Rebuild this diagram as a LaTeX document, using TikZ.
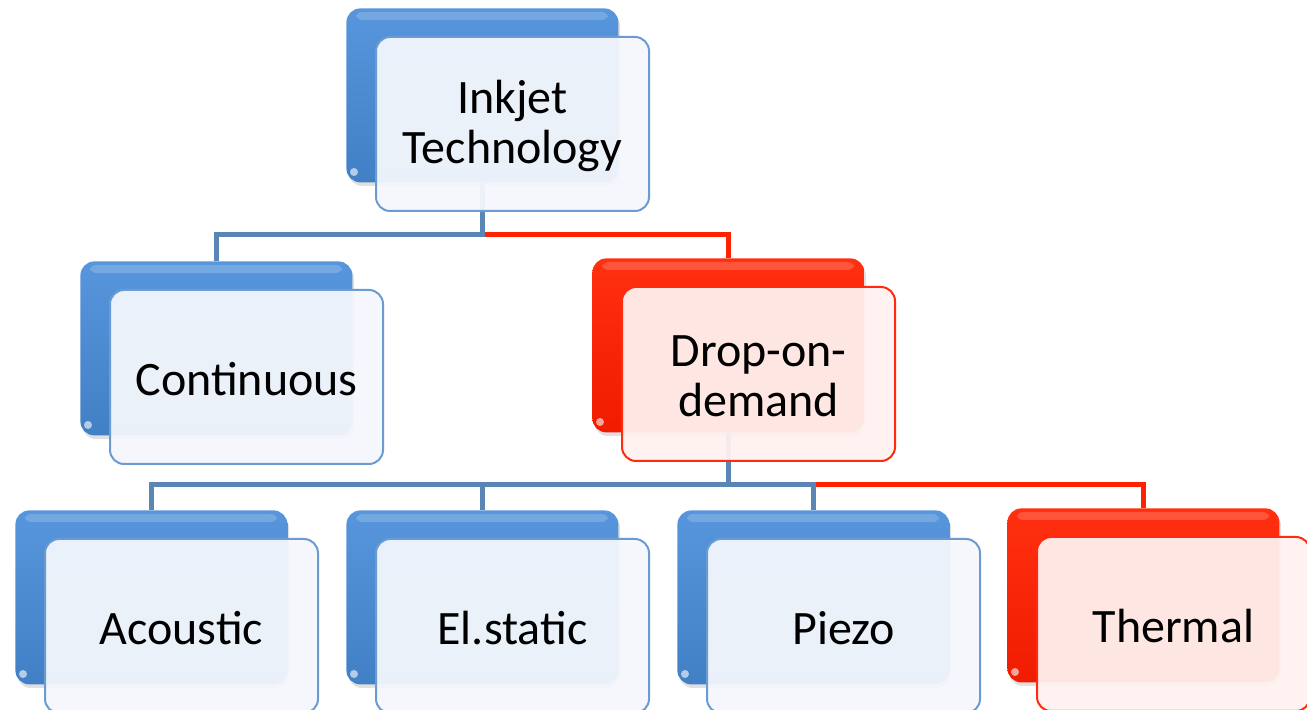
\documentclass[tikz,border=0pt]{standalone}
\usepackage{fontspec}
\setmainfont{Carlito}
\usetikzlibrary{calc}
\pgfdeclarelayer{bg}
\pgfsetlayers{bg,main}
\definecolor{btop}{HTML}{5796DC}
\definecolor{bbot}{HTML}{4280C6}
\definecolor{rtop}{HTML}{FF3010}
\definecolor{rbot}{HTML}{F01C00}
\definecolor{bfill}{HTML}{F4F7FC}
\definecolor{bline}{HTML}{6C9BD2}
\definecolor{rfill}{HTML}{FFF1EF}
\definecolor{rline}{HTML}{FF2A10}
\definecolor{bconn}{HTML}{5A86B6}
\definecolor{rconn}{HTML}{FF2200}
\tikzset{
  backbase/.style={anchor=north west, minimum width=136pt, minimum height=87pt, inner sep=0pt, rounded corners=7pt},
  backblue/.style={backbase, top color=btop, bottom color=bbot},
  backred/.style={backbase, top color=rtop, bottom color=rbot},
  frontbase/.style={anchor=north west, minimum width=136.5pt, minimum height=87pt, inner sep=0pt, rounded corners=7pt, line width=1pt, fill opacity=0.95},
  frontblue/.style={frontbase, fill=bfill, draw=bline},
  frontred/.style={frontbase, fill=rfill, draw=rline},
  lbl/.style={font=\fontsize{24}{25}\selectfont, align=center, text=black, inner sep=0pt},
  bluec/.style={draw=bconn, line width=2.5pt},
  redc/.style={draw=rconn, line width=2.5pt},
}
\newcommand\orgbox[5]{%
  \begin{pgfonlayer}{bg}
    \fill[black, opacity=0.12, rounded corners=7pt] (#2+2,#3+4) rectangle ++(272,174);
  \end{pgfonlayer}
  \node[back#4] (#1) at (#2,#3) {};
  \fill[white, opacity=0.18, rounded corners=3pt] (#2+10,#3+4) rectangle (#2+262,#3+12);
  \fill[white, opacity=0.6] (#2+8,#3+164) circle (2pt);
  \node[front#4] (#1f) at (#2+29,#3+28) {};
  \node[lbl] (#1t) at ($(#1f.center)+(0,2)$) {#5};
}
\begin{document}
\begin{tikzpicture}[x=0.5pt,y=-0.5pt]
\useasboundingbox (0,0) rectangle (1307,710);
\orgbox{top}{346}{8}{blue}{Inkjet\\Technology}
\orgbox{cont}{80}{261}{blue}{Continuous}
\orgbox{dod}{592}{258}{red}{Drop-on-\\demand}
\orgbox{acou}{15}{510}{blue}{Acoustic}
\orgbox{elst}{346}{510}{blue}{El.static}
\orgbox{piezo}{677}{510}{blue}{Piezo}
\orgbox{therm}{1007}{508}{red}{Thermal}
\coordinate (bus1) at (0,235);
\coordinate (bus2) at (0,485);
\begin{pgfonlayer}{bg}
  \draw[redc] (top.south) -- (top.south |- bus1) -| (dod.north);
  \draw[redc] (dod.south) -- (dod.south |- bus2) -| (therm.north);
  \draw[bluec] (top.south) -- (top.south |- bus1) -| (cont.north);
  \draw[bluec] (dod.south) -- (dod.south |- bus2) -| (acou.north);
  \draw[bluec] (dod.south) -- (dod.south |- bus2) -| (elst.north);
  \draw[bluec] (dod.south) -- (dod.south |- bus2) -| (piezo.north);
\end{pgfonlayer}
\end{tikzpicture}
\end{document}
